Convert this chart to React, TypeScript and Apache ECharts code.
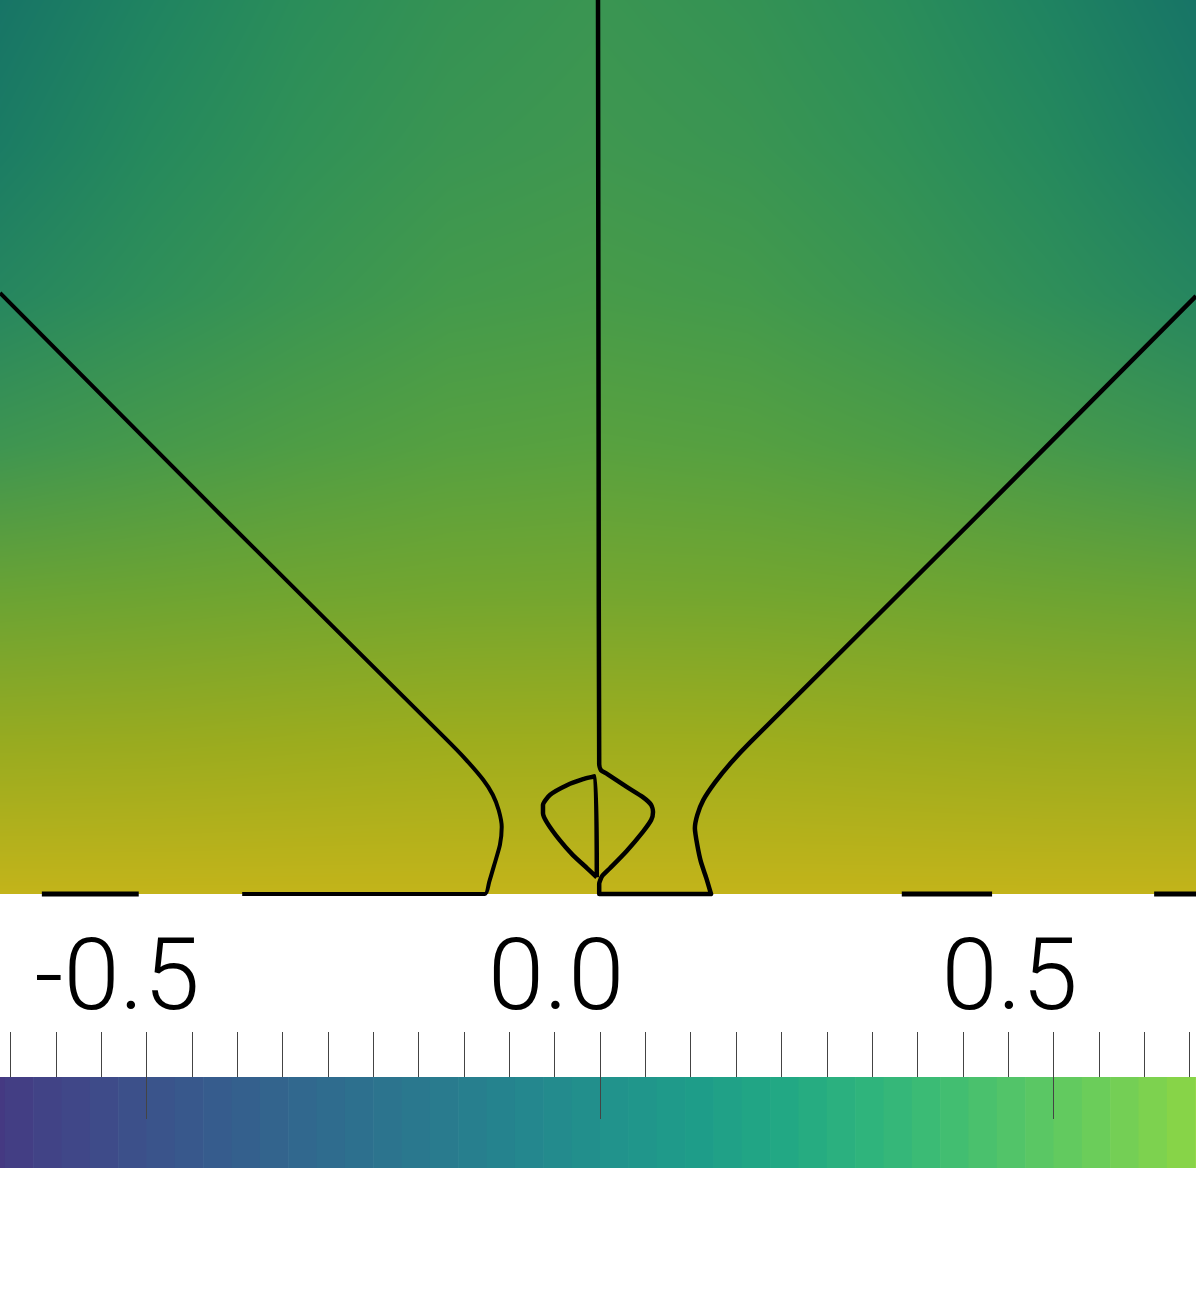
import React, { useEffect, useRef } from "react";
import * as echarts from "echarts";

// ---- colour map (viridis) used by the colour legend ----
const VIRIDIS = [
  "#440154", "#471365", "#482475", "#463480", "#414487", "#3b528b", "#355f8d",
  "#2f6c8e", "#2a788e", "#25848e", "#21918c", "#1e9c89", "#22a884", "#2fb47c",
  "#44bf70", "#5ec962", "#7ad151", "#9bd93c", "#bddf26", "#dfe318", "#fde725",
];
const BAR_MIN = -1;
const BAR_MAX = 1;
const BAR_BAND_COUNT = 64;
const BAR_LABELS = [-0.5, 0, 0.5];

// ---- shaded scalar field (left half, mirrored) ----
const FIELD_X = [-1, -0.75, -0.5, -0.25, 0];
const FIELD_Y = [1.5, 1.25, 1.0, 0.75, 0.5, 0.25, 0];
const FIELD_COLORS = [
  ["#177466", "#1f8361", "#2a8d5a", "#349254", "#3a9552"],
  ["#1b7c64", "#25895d", "#309157", "#3a9552", "#3f9750"],
  ["#26865f", "#2f8f59", "#3a9552", "#439a4c", "#479b49"],
  ["#3e9551", "#46994b", "#4e9d45", "#55a041", "#58a13f"],
  ["#6aa334", "#6da432", "#71a530", "#73a62f", "#75a62f"],
  ["#98ab20", "#9aab1f", "#9cac1e", "#9ead1d", "#9fad1d"],
  ["#c3b41a", "#c3b41a", "#c3b41a", "#c3b41a", "#c3b41a"],
];

// ---- contour lines (data coordinates) ----
const LEFT_CONTOUR = [
  [-1.0, 1.005], [-0.632, 0.635], [-0.256, 0.261], [-0.222, 0.226],
  [-0.192, 0.191], [-0.176, 0.166], [-0.166, 0.14], [-0.161, 0.112], [-0.164, 0.082],
  [-0.174, 0.047], [-0.182, 0.02], [-0.189, 0], [-0.595, 0],
];
const RIGHT_CONTOUR = [
  [1.0, 1.0], [0.632, 0.63], [0.254, 0.253], [0.222, 0.219], [0.196, 0.187],
  [0.176, 0.157], [0.166, 0.132], [0.162, 0.11], [0.166, 0.082], [0.172, 0.054],
  [0.181, 0.027], [0.189, 0], [0.002, 0], [0.002, 0.017],
  [0.007, 0.03], [0.02, 0.043], [0.048, 0.072], [0.075, 0.104], [0.089, 0.124],
  [0.092, 0.137], [0.089, 0.149], [0.075, 0.162], [0.048, 0.179], [0.015, 0.201],
  [0.005, 0.207], [0.002, 0.217], [0.001, 0.76], [0.0, 1.5],
];
const LEFT_LOBE = [
  [-0.002, 0.028], [-0.005, 0.197], [-0.025, 0.192], [-0.052, 0.182], [-0.08, 0.166],
  [-0.092, 0.149], [-0.092, 0.135], [-0.085, 0.119], [-0.064, 0.09], [-0.042, 0.065],
  [-0.018, 0.043], [-0.002, 0.028],
];
const BOTTOM_SEGMENTS = [
  [[-0.93, 0], [-0.768, 0]],
  [[0.508, 0], [0.659, 0]],
  [[0.93, 0], [1.0, 0]],
];

function hexToRgb(h: string): number[] {
  const n = parseInt(h.slice(1), 16);
  return [(n >> 16) & 255, (n >> 8) & 255, n & 255];
}
function rgbToHex(c: number[]): string {
  return "#" + c.map((v) => Math.round(v).toString(16).padStart(2, "0")).join("");
}
function viridis(t: number): string {
  const s = Math.max(0, Math.min(1, t)) * (VIRIDIS.length - 1);
  const i = Math.min(VIRIDIS.length - 2, Math.floor(s));
  const f = s - i;
  const a = hexToRgb(VIRIDIS[i]);
  const b = hexToRgb(VIRIDIS[i + 1]);
  return rgbToHex(a.map((v, k) => v + (b[k] - v) * f));
}
function locate(arr: number[], v: number): [number, number] {
  for (let i = 0; i < arr.length - 1; i++) {
    const a = arr[i];
    const b = arr[i + 1];
    const lo = Math.min(a, b);
    const hi = Math.max(a, b);
    if (v >= lo && v <= hi) return [i, (v - a) / (b - a)];
  }
  const first = Math.abs(v - arr[0]) < Math.abs(v - arr[arr.length - 1]);
  return first ? [0, 0] : [arr.length - 2, 1];
}

function buildFieldImage(): string {
  const W = 1196;
  const H = 897;
  const cv = document.createElement("canvas");
  cv.width = W;
  cv.height = H;
  const ctx = cv.getContext("2d")!;
  const img = ctx.createImageData(W, H);
  const rgb = FIELD_COLORS.map((row) => row.map(hexToRgb));
  const cols: [number, number][] = [];
  for (let i = 0; i < W; i++) {
    const X = -1 + (2 * (i + 0.5)) / W;
    cols.push(locate(FIELD_X, -Math.abs(X)));
  }
  for (let j = 0; j < H; j++) {
    const Y = 1.5 * (1 - (j + 0.5) / H);
    const [ri, rf] = locate(FIELD_Y, Y);
    for (let i = 0; i < W; i++) {
      const [ci, cf] = cols[i];
      const p = (j * W + i) * 4;
      for (let k = 0; k < 3; k++) {
        const a = rgb[ri][ci][k] * (1 - cf) + rgb[ri][ci + 1][k] * cf;
        const b = rgb[ri + 1][ci][k] * (1 - cf) + rgb[ri + 1][ci + 1][k] * cf;
        img.data[p + k] = a * (1 - rf) + b * rf;
      }
      img.data[p + 3] = 255;
    }
  }
  ctx.putImageData(img, 0, 0);
  return cv.toDataURL();
}

export default function App() {
  const ref = useRef<HTMLDivElement>(null);

  useEffect(() => {
    if (!ref.current) return;
    const chart = echarts.init(ref.current, null, { renderer: "svg" });
    const fieldUrl = buildFieldImage();

    const step = (BAR_MAX - BAR_MIN) / BAR_BAND_COUNT;
    const bands: number[][] = [];
    const bandColors: string[] = [];
    for (let k = 0; k < BAR_BAND_COUNT; k++) {
      bands.push([BAR_MIN + k * step, BAR_MIN + (k + 1) * step]);
      bandColors.push(viridis((k + 0.5) / BAR_BAND_COUNT));
    }

    const contour = (data: number[][], name: string, width = 4.5) => ({
      type: "line",
      name,
      xAxisIndex: 0,
      yAxisIndex: 0,
      data,
      showSymbol: false,
      symbol: "none",
      smooth: 0.2,
      clip: false,
      silent: true,
      z: 5,
      lineStyle: { color: "#000", width, join: "round", cap: "butt" },
    });

    const hiddenAxis = (gridIndex: number, min: number, max: number) => ({
      type: "value",
      gridIndex,
      min,
      max,
      show: false,
    });

    chart.setOption({
      animation: false,
      backgroundColor: "#ffffff",
      grid: [
        { left: 0, top: -3, width: 1196, height: 897, outerBoundsMode: "none", containLabel: false },
        { left: -307, top: 1077, width: 1814, height: 91, outerBoundsMode: "none", containLabel: false },
        { left: -307, top: 1032, width: 1814, height: 87, outerBoundsMode: "none", containLabel: false },
        { left: -419, top: 974, width: 1814, height: 10, outerBoundsMode: "none", containLabel: false },
      ],
      xAxis: [
        hiddenAxis(0, -1, 1),
        hiddenAxis(1, BAR_MIN, BAR_MAX),
        {
          type: "value",
          gridIndex: 2,
          position: "top",
          min: BAR_MIN,
          max: BAR_MAX,
          interval: 0.5,
          z: 10,
          axisLine: { show: false, onZero: false },
          axisLabel: { show: false },
          splitLine: { show: false },
          axisTick: { show: true, inside: true, length: 87, lineStyle: { color: "#444", width: 1 } },
          minorTick: { show: true, splitNumber: 10, length: 45, lineStyle: { color: "#444", width: 1 } },
        },
        {
          type: "value",
          gridIndex: 3,
          position: "top",
          min: BAR_MIN,
          max: BAR_MAX,
          interval: 0.5,
          axisLine: { show: false, onZero: false },
          axisTick: { show: false },
          splitLine: { show: false },
          axisLabel: {
            show: true,
            margin: 0,
            align: "left",
            verticalAlign: "middle",
            fontFamily: "Roboto, 'Liberation Sans', Arial, sans-serif",
            fontWeight: 300,
            fontSize: 101,
            color: "#000",
            formatter: (v: number) =>
              BAR_LABELS.some((l) => Math.abs(l - v) < 1e-9) ? v.toFixed(1) : "",
          },
        },
      ],
      yAxis: [
        hiddenAxis(0, 0, 1.5),
        hiddenAxis(1, 0, 1),
        hiddenAxis(2, 0, 1),
        hiddenAxis(3, 0, 1),
      ],
      series: [
        {
          type: "custom",
          name: "field",
          xAxisIndex: 0,
          yAxisIndex: 0,
          silent: true,
          z: 1,
          data: [[0, 0]],
          renderItem: (_p: any, api: any) => {
            const p0 = api.coord([-1, 1.5]);
            const p1 = api.coord([1, 0]);
            return {
              type: "image",
              style: { image: fieldUrl, x: p0[0], y: p0[1], width: p1[0] - p0[0], height: p1[1] - p0[1] },
            };
          },
        },
        {
          type: "custom",
          name: "colorbar",
          xAxisIndex: 1,
          yAxisIndex: 1,
          silent: true,
          z: 1,
          clip: false,
          data: bands,
          renderItem: (params: any, api: any) => {
            const p0 = api.coord([api.value(0), 1]);
            const p1 = api.coord([api.value(1), 0]);
            return {
              type: "rect",
              shape: { x: p0[0], y: p0[1], width: p1[0] - p0[0] + 0.6, height: p1[1] - p0[1] },
              style: { fill: bandColors[params.dataIndex], stroke: null },
            };
          },
        },
        contour(LEFT_CONTOUR, "left", 4),
        contour(RIGHT_CONTOUR, "right", 4.5),
        contour(LEFT_LOBE, "lobe", 4.5),
        ...BOTTOM_SEGMENTS.map((s, i) => contour(s, "bottom" + i, 5)),
      ],
    });

    return () => chart.dispose();
  }, []);

  return (
    <div
      ref={ref}
      style={{ position: "fixed", left: 0, top: 0, width: 1196, height: 1293, background: "#fff" }}
    />
  );
}
